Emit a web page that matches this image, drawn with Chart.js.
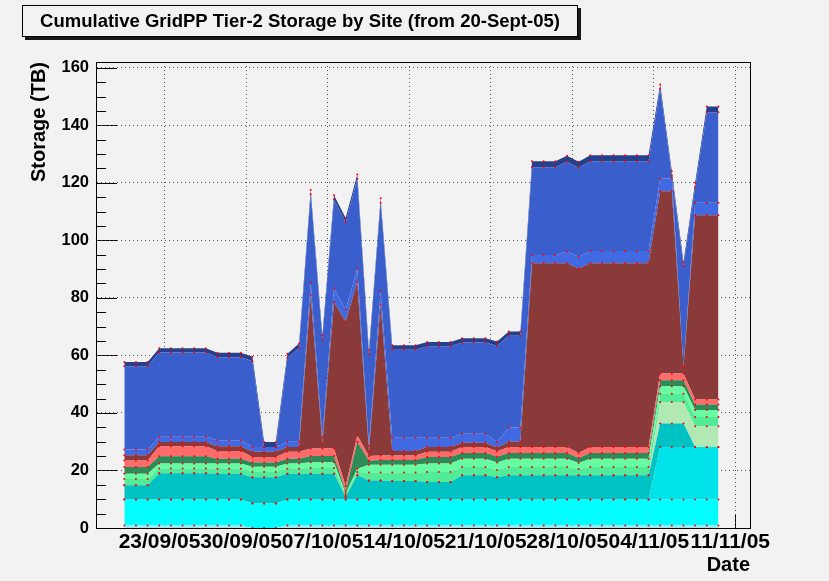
<!DOCTYPE html>
<html>
<head>
<meta charset="utf-8">
<script src="https://cdn.jsdelivr.net/npm/chart.js@4.4.1/dist/chart.umd.min.js"></script>
<style>
  html, body { margin: 0; padding: 0; background: #f2f2f2; }
  canvas { display: block; }
</style>
</head>
<body>
<canvas id="storageChart" width="829" height="581"></canvas>
<script>
// one sample per day, day 0 = 20-Sept-05
var days = Array.from({ length: 52 }, (_, i) => i);

var tickDays = [3, 10, 17, 24, 31, 38, 45, 52];
var tickLabels = ["23/09/05", "30/09/05", "07/10/05", "14/10/05", "21/10/05", "28/10/05", "04/11/05", "11/11/05"];

// storage per site (TB), stacked bottom -> top
var site01 = [0.9,0.9,0.9,0.9,0.9,0.9,0.9,0.9,0.9,0.9, 0.9,0,0,0,0.9,0.9,0.9,0.9,0.9,0.9, 0.9,0.9,0.9,0.9,0.9,0.9,0.9,0.9,0.9,0.9, 0.9,0.9,0.9,0.9,0.9,0.9,0.9,0.9,0.9,0.9, 0.9,0.9,0.9,0.9,0.9,0.9,0.9,0.9,0.9,0.9, 0.9,0.9];
var site02 = [9,9,9,9,9,9,9,9,9,9, 9,8.5,8.5,8.5,9,9,9,9,9,9, 9,9,9,9,9,9,9,9,9,9, 9,9,9,9,9,9,9,9,9,9, 9,9,9,9,9,9,9,9,9,9, 9,9];
var site03 = [0,0,0,0,0,0,0,0,0,0, 0,0,0,0,0,0,0,0,0,0, 0,0,0,0,0,0,0,0,0,0, 0,0,0,0,0,0,0,0,0,0, 0,0,0,0,0,0,18.3,18.3,18.3,18.3, 18.3,18.3];
var site04 = [5,5,5,9.1,9.1,9.1,9.1,9.1,9,9, 9,9.1,9.1,9.1,9,9,9,9,9,0.9, 8.4,6.6,6.6,6.4,6.4,6.4,6.1,6.1,6.1,8.4, 8.4,8.4,7.7,8.4,8.4,8.4,8.4,8.4,8.4,8.4, 8.4,8.4,8.4,8.4,8.4,8.4,8.1,8.1,8.1,0, 0,0];
var site05 = [0,0,0,0,0,0,0,0,0,0, 0,0,0,0,0,0,0,0,0,0, 0,0,0,0,0,0,0,0,0,0, 0,0,0,0,0,0,0,0,0,0, 0,0,0,0,0,0,7.5,7.5,7.5,7.2, 7.2,7.2];
var site06 = [2.1,2.1,2.1,1.7,1.7,1.7,1.7,1.7,1.7,1.7, 1.7,1.9,1.9,1.9,1.7,1.7,2,2,2,0.6, 1.2,2.8,2.8,3,3,3,3.5,3.5,3.5,2.9, 2.9,2.9,2.6,2.9,2.9,2.9,2.9,2.9,2.9,2.2, 2.9,2.9,2.9,2.9,2.9,2.9,2.9,2.9,2.9,3.2, 3.2,3.2];
var site07 = [1.9,1.9,1.9,1.7,1.7,1.7,1.7,1.7,1.8,1.8, 1.8,1.8,1.8,1.8,1.8,1.8,2,2,2,0.6, 1.1,2.7,2.7,2.7,2.7,2.7,2.9,2.9,2.9,2.9, 2.9,2.9,2.6,2.9,2.9,2.9,2.9,2.9,2.9,2.1, 2.9,2.9,2.9,2.9,2.9,2.9,2.6,2.6,2.6,2.4, 2.4,2.4];
var site08 = [2.3,2.3,2.3,2.5,2.5,2.5,2.5,2.5,1.7,1.7, 1.7,1.5,1.5,1.5,1.7,1.7,2.1,2.1,2.1,0.8, 9.3,1.4,1.6,1.6,1.6,1.6,2.3,2.3,2.3,2, 2,2,2,2,2,2,2,2,2,1.7, 2,2,2,2,2,2,2.1,2.1,2.1,1.9, 1.9,1.9];
var site09 = [2.3,2.3,2.3,3.5,3.5,3.5,3.5,3.5,2.7,2.7, 2.7,1.9,1.9,1.9,2.4,2.4,2.6,2.6,2.6,1.7, 2.3,1.6,1.6,1.6,1.6,1.6,1.8,1.8,1.8,2.1, 2.1,2.1,1.9,2.1,2.1,2.1,2.1,2.1,2.1,1.8, 2.1,2.1,2.1,2.1,2.1,2.1,2.3,2.3,2.3,1.8, 1.8,1.8];
var site10 = [1.8,1.8,1.8,1.5,1.5,1.5,1.5,1.5,1.6,1.6, 1.6,1.8,1.8,1.8,1.7,1.7,53.3,1.7,51,57.2, 53.4,1.6,52.5,1.6,1.6,1.6,1.7,1.7,1.7,1.4, 1.4,1.4,1.3,1.8,1.8,63.8,63.8,63.8,63.8,64.1, 63.8,63.8,63.8,63.8,63.8,63.8,63.4,63.4,2.3,64, 64,64];
var site11 = [2,2,2,1.8,1.8,1.8,1.8,1.8,2.1,2.1, 2.1,1.7,1.7,1.7,1.8,1.8,4.4,2.2,4.7,4.3, 4.6,2,4.6,4.6,4.6,4.6,3.2,3.2,3.2,3.2, 3.2,3.2,1.9,4.9,4.9,2.9,2.9,2.9,4.1,4.1, 4.3,4.3,4.3,4.3,4.3,4.3,4.4,4.4,0,4.4, 4.4,4.4];
var site12 = [28.9,28.9,28.9,29.3,29.3,29.3,29.3,29.3,28.9,28.9, 28.9,29.8,0,0,29.1,32.6,30.7,34,30.9,30.3, 31.2,31.7,30.8,30.6,30.6,30.6,31.8,31.8,31.8,31.7, 31.7,31.7,33.4,31.9,31.9,30.5,30.5,30.5,31.2,30.9, 31.2,31.2,31.2,31.2,31.2,31.2,31.2,1,35,5.4, 31.4,31.4];
var site13 = [1.5,1.5,1.5,1.5,1.5,1.5,1.5,1.5,1.5,1.5, 1.5,1.5,1.7,1.7,1.5,1.5,1.5,1.5,1.5,1.5, 1.5,1.5,1.5,1.5,1.5,1.5,1.5,1.5,1.5,1.5, 1.5,1.5,1.5,1.5,1.5,2.1,2.1,2.1,2.1,2.1, 2.1,2.1,2.1,2.1,2.1,2.1,1.5,1.5,1.5,1.5, 2,2];

var sites = [site01, site02, site03, site04, site05, site06, site07, site08, site09, site10, site11, site12, site13];
var siteColors = ["#a4e4ec", "#00ffff", "#00e3e8", "#00c2c2", "#b2e8b4", "#52ec98", "#68fca2",
                  "#2e8b57", "#ff6a6a", "#8b3a3a", "#4169e1", "#3a5fcd", "#27408b"];

var titleText = "Cumulative GridPP Tier-2 Storage by Site (from 20-Sept-05)";
var tickShift = 0.45; // samples are a bit off midnight
var font = '"Liberation Sans", Arial, Helvetica, sans-serif';

var datasets = sites.map((values, k) => ({
    label: "Site " + (k + 1),
    data: values.map((v, i) => ({ x: days[i], y: v })),
    backgroundColor: siteColors[k],
    borderColor: "rgba(0,0,0,0)",
    borderWidth: 0,
    fill: k === 0 ? "origin" : "-1",
    tension: 0,
    pointRadius: 1,
    pointBorderWidth: 0,
    pointBackgroundColor: "#ff0000",
}));

// title pave with shadow, ROOT style
var titlePave = {
    id: "titlePave",
    afterDraw(chart) {
        var ctx = chart.ctx;
        ctx.save();
        ctx.fillStyle = "#1a1a1a";
        ctx.fillRect(25, 8, 556, 32);
        ctx.fillStyle = "#f2f2f2";
        ctx.fillRect(22, 5, 556, 32);
        ctx.strokeStyle = "#000";
        ctx.lineWidth = 1;
        ctx.strokeRect(22.5, 5.5, 555, 31);
        ctx.fillStyle = "#000";
        ctx.font = "bold 18.5px " + font;
        ctx.textAlign = "center";
        ctx.textBaseline = "middle";
        ctx.fillText(titleText, 300, 21.5);
        ctx.restore();
    },
};

// inward tick marks + closed frame
var rootFrame = {
    id: "rootFrame",
    beforeDraw(chart) {
        var ctx = chart.ctx;
        var a = chart.chartArea;
        var x = chart.scales.x;
        var y = chart.scales.y;
        ctx.save();
        ctx.strokeStyle = "#000";
        ctx.lineWidth = 1;
        ctx.beginPath();
        for (var v = 0; v <= y.max; v += 5) {
            var py = Math.round(y.getPixelForValue(v)) + 0.5;
            ctx.moveTo(a.left, py);
            ctx.lineTo(a.left + (v % 20 === 0 ? 21 : 10), py);
        }
        x.ticks.forEach((t) => {
            var px = Math.round(x.getPixelForValue(t.value)) + 0.5;
            ctx.moveTo(px, a.bottom);
            ctx.lineTo(px, a.bottom - 14);
        });
        ctx.stroke();
        ctx.restore();
    },
    afterDraw(chart) {
        var ctx = chart.ctx;
        var a = chart.chartArea;
        ctx.save();
        ctx.strokeStyle = "#000";
        ctx.lineWidth = 1;
        ctx.strokeRect(Math.round(a.left) + 0.5, Math.round(a.top) + 0.5, Math.round(a.width), Math.round(a.height));
        ctx.restore();
    },
};

var chart = new Chart(document.getElementById("storageChart"), {
    type: "line",
    data: { datasets: datasets },
    plugins: [rootFrame, titlePave],
    options: {
        responsive: false,
        animation: false,
        devicePixelRatio: 1,
        layout: { padding: { top: 62, right: 79, bottom: 0, left: 0 } },
        plugins: {
            legend: { display: false },
            tooltip: { enabled: false },
            filler: { drawTime: "beforeDatasetsDraw" },
        },
        scales: {
            x: {
                type: "linear",
                min: -2.43,
                max: 53.71,
                afterBuildTicks: (scale) => {
                    scale.ticks = tickDays.map((d) => ({ value: d + tickShift }));
                },
                afterFit: (scale) => {
                    scale.height = 53;
                },
                ticks: {
                    autoSkip: false,
                    maxRotation: 0,
                    minRotation: 0,
                    padding: 2,
                    labelOffset: -5,
                    color: "#000",
                    font: { family: font, size: 21, weight: "bold" },
                    callback: (value, index) => tickLabels[index],
                },
                grid: { color: "#555", drawTicks: false },
                border: { display: true, color: "#000", width: 1, dash: [1, 3] },
                title: {
                    display: true,
                    text: "Date",
                    align: "end",
                    color: "#000",
                    font: { family: font, size: 20, weight: "bold" },
                    padding: { top: 0, bottom: 3.5 },
                },
            },
            y: {
                stacked: true,
                min: 0,
                max: 162,
                afterFit: (scale) => {
                    scale.width = 96;
                },
                ticks: {
                    stepSize: 20,
                    includeBounds: false,
                    padding: 7,
                    color: "#000",
                    font: { family: font, size: 16.5, weight: "bold" },
                },
                grid: {
                    drawTicks: false,
                    color: (c) => (c.tick && c.tick.value > 0 ? "#555" : "rgba(0,0,0,0)"),
                },
                border: { display: true, color: "#000", width: 1, dash: [1, 3] },
                title: {
                    display: true,
                    text: "Storage (TB)",
                    align: "end",
                    color: "#000",
                    font: { family: font, size: 20, weight: "bold" },
                    padding: { top: 27, bottom: 0 },
                },
            },
        },
    },
});
</script>
</body>
</html>
